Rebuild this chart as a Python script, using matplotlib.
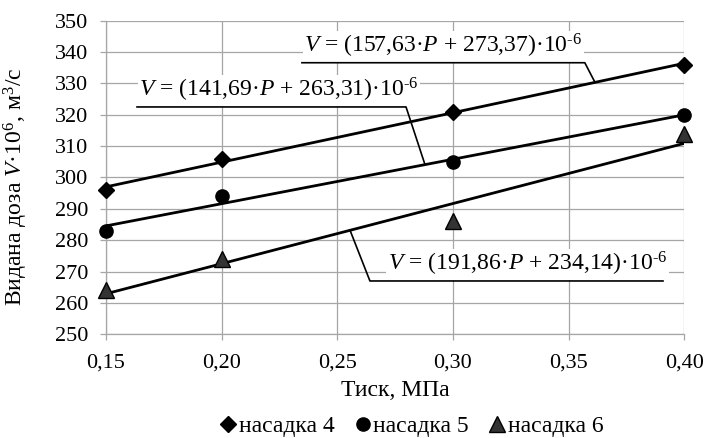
import numpy as np
import matplotlib
matplotlib.use('Agg')
import matplotlib.pyplot as plt

# ==================================================
# дані
# ==================================================

pressure = [0.15, 0.20, 0.30, 0.40]

dose_4 = [296, 306, 321, 336]
dose_5 = [283, 294, 305, 320]
dose_6 = [264, 274, 286, 314]

# коефіцієнти лінійних трендів (k, b)
fit_4 = [157.63, 273.37]
fit_5 = [141.69, 263.31]
fit_6 = [191.86, 234.14]

series_names = ['насадка 4', 'насадка 5', 'насадка 6']

x_ticks = [0.15, 0.20, 0.25, 0.30, 0.35, 0.40]
x_tick_labels = ['0,15', '0,20', '0,25', '0,30', '0,35', '0,40']
y_ticks = list(range(250, 351, 10))

# ==================================================
# стиль
# ==================================================

plt.rcParams['font.family'] = ['Liberation Serif', 'DejaVu Serif']
plt.rcParams['mathtext.fontset'] = 'custom'
plt.rcParams['mathtext.rm'] = 'Liberation Serif'
plt.rcParams['mathtext.it'] = 'Liberation Serif:italic'

grid_color = '#a6a6a6'
fs_tick = 16
fs_lab = 17

# короткий дефіс у показнику степеня, як в оригіналі
exp_str = '10$^{\u2010 6}$'


def eq_text(k, b):
    k_s = f'{k:.2f}'.replace('.', ',')
    b_s = f'{b:.2f}'.replace('.', ',')
    return r'$\mathit{V}$ = (' + k_s + r'·$\mathit{P}$ + ' + b_s + ')·' + exp_str


fig = plt.figure(figsize=(7.05, 4.38), dpi=100)
ax = fig.add_axes([0.1504, 0.2368, 0.8202, 0.7159])

# ==================================================
# лінії тренду
# ==================================================

p_line = np.array([pressure[0], pressure[-1]])

for k, b in [fit_4, fit_5, fit_6]:
    ax.plot(p_line, k * p_line + b, color='black', linewidth=2.0, zorder=3)

# ==================================================
# точки
# ==================================================

ax.plot(pressure, dose_4, linestyle='none', marker='D', markersize=8.5,
        color='black', label=series_names[0], zorder=4, clip_on=False)
ax.plot(pressure, dose_5, linestyle='none', marker='o', markersize=9.5,
        color='black', label=series_names[1], zorder=4, clip_on=False)
ax.plot(pressure, dose_6, linestyle='none', marker='^', markersize=11,
        markerfacecolor='#333333', markeredgecolor='black',
        label=series_names[2], zorder=4, clip_on=False)

# ==================================================
# підписи рівнянь з виносками
# ==================================================

labels = [
    # (коеф., ліва межа, y підкреслення, x кінця підкреслення, x точки на лінії)
    (fit_4, 0.2347, 336.6, 0.357, 0.3614),
    (fit_5, 0.1634, 322.5, 0.2797, 0.2879),
]

for (k, b), x0, y_u, x1, x_pt in labels:
    ax.text(x0 + 0.001, y_u + 0.8, eq_text(k, b), ha='left', va='bottom', fontsize=17,
            zorder=5, bbox=dict(facecolor='white', edgecolor='none', pad=1.0))
    ax.plot([x0, x1, x_pt], [y_u, y_u, k * x_pt + b], color='black',
            linewidth=1.2, zorder=5)

# третій підпис: виноска йде вліво від лінії
k, b = fit_6
ax.text(0.2717, 267.0 + 0.8, eq_text(k, b),
        ha='left', va='bottom', fontsize=17, zorder=5,
        bbox=dict(facecolor='white', edgecolor='none', pad=1.0))
ax.plot([0.2555, 0.2641, 0.3908], [k * 0.2555 + b, 267.0, 267.0],
        color='black', linewidth=1.2, zorder=5)

# ==================================================
# осі
# ==================================================

ax.set_xlim(0.15, 0.40)
ax.set_ylim(250, 350)
ax.set_xticks(x_ticks)
ax.set_xticklabels(x_tick_labels)
ax.set_yticks(y_ticks)

ax.grid(True, color=grid_color, linewidth=0.9, zorder=0)
ax.set_axisbelow(True)

for side in ['top', 'right']:
    ax.spines[side].set_visible(False)
for side in ['left', 'bottom']:
    ax.spines[side].set_color(grid_color)
    ax.spines[side].set_linewidth(0.9)

ax.tick_params(axis='both', direction='out', length=4, width=0.9,
               color=grid_color, labelsize=fs_tick)
ax.tick_params(axis='y', pad=9)
ax.tick_params(axis='x', pad=10)

ax.set_xlabel('Тиск, МПа', fontsize=fs_lab)
ax.xaxis.set_label_coords(0.5, -0.145)
ax.set_ylabel(r'Видана доза $\mathit{V}$·10$^6$, м$^3$/с', fontsize=fs_lab)
ax.yaxis.set_label_coords(-0.132, 0.47)

fig.legend(loc='center', bbox_to_anchor=(0.583, 0.026), ncol=3, frameon=False,
           fontsize=fs_lab, handletextpad=0.05, columnspacing=0.8,
           handlelength=0.8, borderpad=0.0)

plt.savefig('out.png', dpi=100)
